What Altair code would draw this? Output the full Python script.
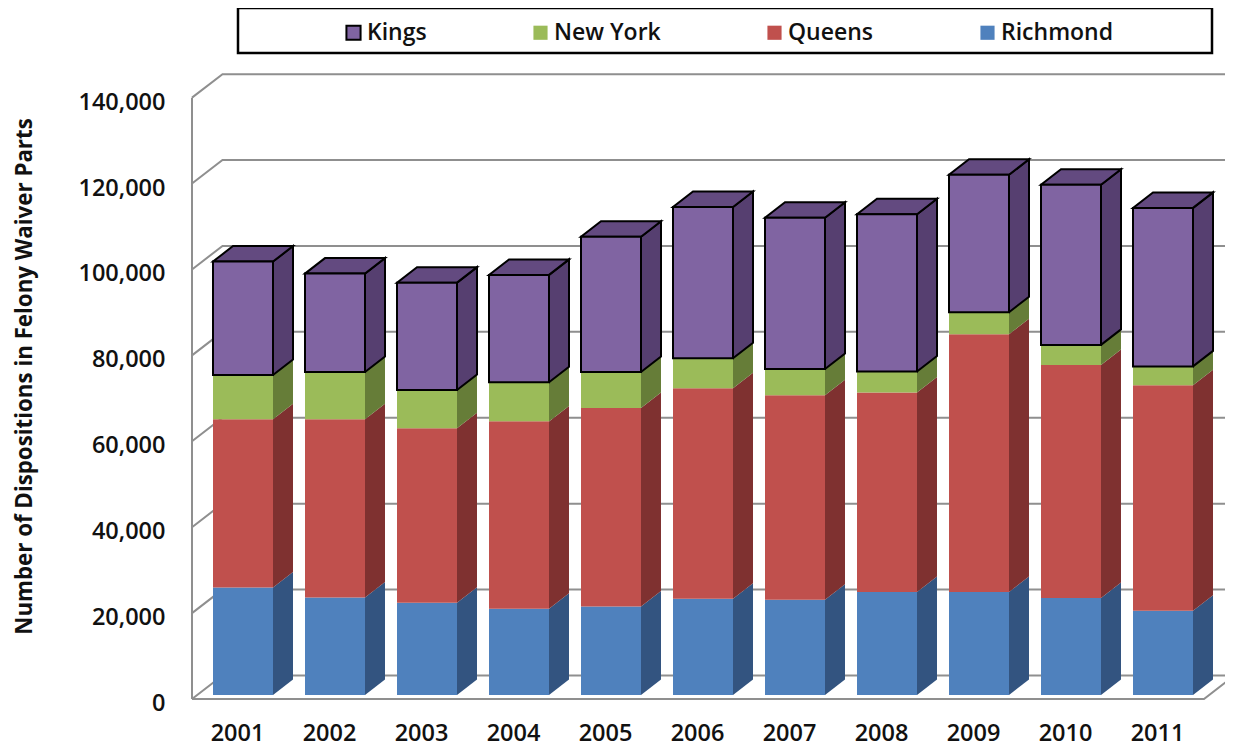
import altair as alt
import pandas as pd

years = [2001, 2002, 2003, 2004, 2005, 2006, 2007, 2008, 2009, 2010, 2011]
richmond = [25000, 22700, 21500, 20100, 20600, 22400, 22200, 24000, 24000, 22600, 19600]
queens = [39200, 41500, 40600, 43600, 46200, 49000, 47600, 46400, 60000, 54200, 52500]
new_york = [10300, 11000, 8900, 9100, 8400, 7000, 6100, 4900, 5100, 4700, 4400]
kings = [26400, 22900, 25000, 25000, 31500, 35200, 35200, 36600, 32000, 37300, 36900]
series_names = ["Kings", "New York", "Queens", "Richmond"]
front_colors = ["#8064A2", "#9BBB59", "#C0504D", "#4F81BD"]
side_colors = {"Kings": "#563F70", "New York": "#667D38", "Queens": "#7F3130", "Richmond": "#335480"}
top_color = "#634A80"
tick_values = [0, 20000, 40000, 60000, 80000, 100000, 120000, 140000]

FONT = "Open Sans"
WEIGHT = 600
W, H = 1033, 638
PX_Y = 232.8
PX_X = 1 / 92
half = 30 * PX_X
dx = 20 * PX_X
dy = 15.5 * PX_Y
wall_dx = 30.5 * PX_X
wall_dy = 23.5 * PX_Y
floor = -4 * PX_Y
x_min = 2001 + (192 - 243) * PX_X
x_max = 2001 + (1225 - 243) * PX_X
x_floor_end = 2001 + (1204 - 243) * PX_X
x_scale = alt.Scale(domain=[x_min, x_max], nice=False, zero=False)
y_scale = alt.Scale(domain=[-5 * PX_Y, 633 * PX_Y], nice=False, zero=False)

stack_order = [("Richmond", richmond), ("Queens", queens), ("New York", new_york), ("Kings", kings)]
front, side, top = [], [], []
for i, yr in enumerate(years):
    base = 0
    for name, vals in stack_order:
        t = base + vals[i]
        xl, xr = yr - half, yr + half
        front.append(dict(series=name, xl=xl, xr=xr, y0=base, y1=t))
        side.append(dict(seg=f"{yr}{name}", series=name, col=side_colors[name], x=xr, lo=base, hi=t))
        side.append(dict(seg=f"{yr}{name}", series=name, col=side_colors[name], x=xr + dx, lo=base + dy, hi=t + dy))
        if name == "Kings":
            top += [
                dict(seg=str(yr), x=xl, lo=t, hi=t),
                dict(seg=str(yr), x=xl + dx, lo=t, hi=t + dy),
                dict(seg=str(yr), x=xr, lo=t, hi=t + dy),
                dict(seg=str(yr), x=xr + dx, lo=t + dy, hi=t + dy),
            ]
        base = t

walls = []
for v in tick_values:
    walls.append(dict(k=f"g{v}", o=0, x=x_min, y=v + floor))
    walls.append(dict(k=f"g{v}", o=1, x=x_min + wall_dx, y=v + floor + wall_dy))
    walls.append(dict(k=f"g{v}", o=2, x=x_max, y=v + floor + wall_dy))
walls.append(dict(k="left", o=0, x=x_min, y=floor))
walls.append(dict(k="left", o=1, x=x_min, y=140000 + floor))
walls.append(dict(k="floor", o=0, x=x_min, y=floor))
walls.append(dict(k="floor", o=1, x=x_floor_end, y=floor))
walls.append(dict(k="floor", o=2, x=x_floor_end + wall_dx, y=floor + wall_dy))

x_axis = alt.Axis(
    values=years, format="d", grid=False, ticks=False, domain=False,
    labelFont=FONT, labelFontSize=23.5, labelFontWeight=WEIGHT, labelColor="#111111",
    labelPadding=21, labelOffset=-6, labelFlush=False, labelOverlap=False,
)
y_axis = alt.Axis(
    values=tick_values, format=",d", grid=False, ticks=False, domain=False,
    labelFont=FONT, labelFontSize=23.5, labelFontWeight=WEIGHT, labelColor="#111111",
    labelPadding=27, labelOffset=8.5, labelOverlap=False,
    titleFont=FONT, titleFontSize=22.3, titleFontWeight=700, titleColor="#111111",
    titleX=-168, titleY=314, titleAngle=270, titleAlign="center", titleBaseline="middle",
)
Y_TITLE = "Number of Dispositions in Felony Waiver Parts"
X = lambda f: alt.X(f, type="quantitative", scale=x_scale, axis=x_axis, title=None)
Y = lambda f: alt.Y(f, type="quantitative", scale=y_scale, axis=y_axis, title=Y_TITLE)

wall_layer = alt.Chart(pd.DataFrame(walls)).mark_line(color="#8F8F8F", strokeWidth=2, clip=False).encode(
    x=X("x"), y=Y("y"), detail="k:N", order="o:Q"
)

side_df = pd.DataFrame(side)
side_plain = alt.Chart(side_df[side_df.series != "Kings"]).mark_area(orient="vertical").encode(
    x=X("x"), y=Y("lo"), y2="hi:Q", detail="seg:N",
    fill=alt.Fill("col:N", scale=None),
)
side_kings = alt.Chart(side_df[side_df.series == "Kings"]).mark_area(
    orient="vertical", fill=side_colors["Kings"], stroke="black", strokeWidth=2
).encode(x=X("x"), y=Y("lo"), y2="hi:Q", detail="seg:N")
top_layer = alt.Chart(pd.DataFrame(top)).mark_area(
    orient="vertical", fill=top_color, stroke="black", strokeWidth=2
).encode(x=X("x"), y=Y("lo"), y2="hi:Q", detail="seg:N")

legend = alt.Legend(
    title=None, orient="none", legendX=150, legendY=-41, direction="horizontal",
    symbolType="square", symbolSize=200, symbolStrokeWidth=2,
    labelFont=FONT, labelFontSize=23, labelFontWeight=WEIGHT, labelColor="#111111",
    columnPadding=102, labelOffset=2, padding=0,
)
front_layer = alt.Chart(pd.DataFrame(front)).mark_rect(strokeWidth=2).encode(
    x=X("xl"),
    x2="xr:Q",
    y=Y("y0"),
    y2="y1:Q",
    fill=alt.Fill("series:N", scale=alt.Scale(domain=series_names, range=front_colors), legend=legend),
    stroke=alt.Stroke("series:N", scale=alt.Scale(domain=series_names, range=["black", "transparent", "transparent", "transparent"]), legend=legend),
)

frame = alt.Chart(pd.DataFrame({"a": [0]})).mark_rect(fill="transparent", stroke="black", strokeWidth=2.5).encode(
    x=alt.value(46), x2=alt.value(1020), y=alt.value(-54), y2=alt.value(-9)
)

chart = alt.layer(wall_layer, side_plain, side_kings, top_layer, front_layer, frame).properties(
    width=W, height=H, background="white",
    autosize="none", padding={"left": 184, "top": 54, "right": 0, "bottom": 46},
).configure_view(stroke=None)

chart.save("out.html", embed_options={"renderer": "svg", "actions": False})
